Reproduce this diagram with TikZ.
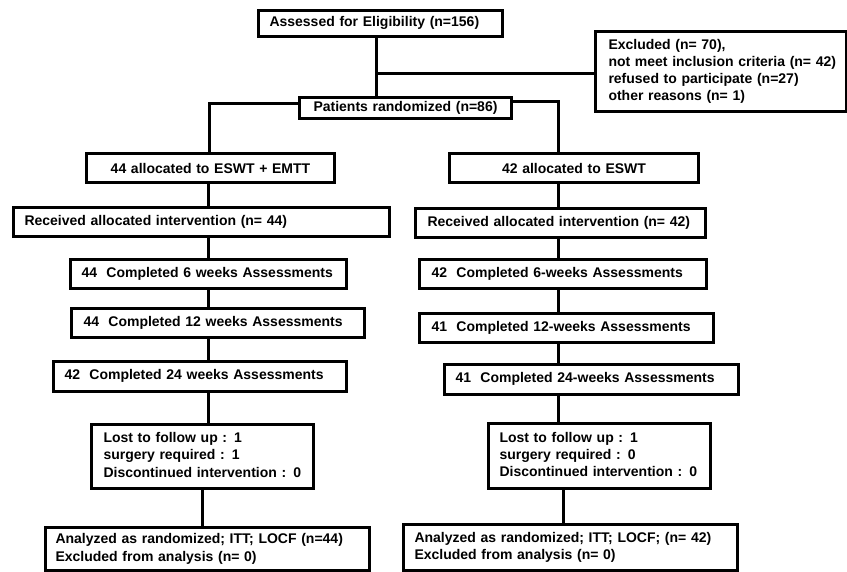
\documentclass[tikz,border=0pt]{standalone}
\usepackage{fontspec}
\setmainfont{Liberation Sans}
\newcommand\tb[2]{\begin{tabular}{@{\hspace{#1}}l@{}}#2\end{tabular}}
\begin{document}
\begin{tikzpicture}[x=1pt,y=-1pt,
  box/.style={draw, line width=3pt, anchor=north west, align=left, inner ysep=0pt, inner xsep=0pt,
    font=\fontsize{14pt}{17.3pt}\selectfont\bfseries},
  cbox/.style={box, align=center},
  conn/.style={line width=3pt}]
\useasboundingbox (0,0) rectangle (847,571);
% nodes
\node[box, text width=244pt, minimum height=26pt] (assess) at (257,9) {\tb{11pt}{Assessed for Eligibility (n=156)}};
\node[box, text width=251pt, minimum height=80pt] (excl) at (594,30) {\tb{13pt}{Excluded (n= 70),\\not meet inclusion criteria (n= 42)\\refused to participate (n=27)\\other reasons (n= 1)}};
\node[box, text width=212pt, minimum height=21pt] (rand) at (298,96) {\tb{14pt}{Patients randomized (n=86)}};
\node[cbox, text width=248pt, minimum height=29pt] (allocL) at (85,152) {44 allocated to ESWT + EMTT};
\node[cbox, text width=249pt, minimum height=29pt] (allocR) at (448,152) {42 allocated to ESWT};
\node[box, text width=376pt, minimum height=29pt] (recvL) at (12,206) {\tb{11pt}{Received allocated intervention (n= 44)}};
\node[box, text width=290pt, minimum height=29pt] (recvR) at (414,207) {\tb{12pt}{Received allocated intervention (n= 42)}};
\node[box, text width=276pt, minimum height=29pt] (c6L) at (69,258) {\tb{11pt}{44~ Completed 6 weeks Assessments}};
\node[box, text width=287pt, minimum height=29pt] (c6R) at (418,258) {\tb{12pt}{42~ Completed 6-weeks Assessments}};
\node[box, text width=293pt, minimum height=29pt] (c12L) at (70,307) {\tb{12pt}{44~ Completed 12 weeks Assessments}};
\node[box, text width=294pt, minimum height=29pt] (c12R) at (418,312) {\tb{12pt}{41~ Completed 12-weeks Assessments}};
\node[box, text width=293pt, minimum height=30pt] (c24L) at (52,360) {\tb{11pt}{42~ Completed 24 weeks Assessments}};
\node[box, text width=294pt, minimum height=30pt] (c24R) at (443,363) {\tb{11pt}{41~ Completed 24-weeks Assessments}};
\node[box, text width=222pt, minimum height=64pt] (lostL) at (90,423) {\tb{12pt}{Lost to follow up : 1\\surgery required : 1\\Discontinued intervention : 0}};
\node[box, text width=222pt, minimum height=65pt] (lostR) at (487,422) {\tb{11pt}{Lost to follow up : 1\\surgery required : 0\\Discontinued intervention : 0}};
\node[box, text width=324pt, minimum height=43pt] (anaL) at (44,526) {\tb{10pt}{Analyzed as randomized; ITT; LOCF (n=44)\\Excluded from analysis (n= 0)}};
\node[box, text width=334pt, minimum height=46pt] (anaR) at (402,523) {\tb{11pt}{Analyzed as randomized; ITT; LOCF; (n= 42)\\Excluded from analysis (n= 0)}};
% connectors
\coordinate (jx) at (376,73);
\draw[conn] (376,0 |- assess.south) -- (376,0 |- rand.north);
\draw[conn] (jx) -- (jx -| excl.west);
\draw[conn] (rand.west |- 0,103) -| (209,0 |- allocL.north);
\draw[conn] (rand.east |- 0,101) -| (558,0 |- allocR.north);
\draw[conn] (208,0 |- allocL.south) -- (208,0 |- recvL.north);
\draw[conn] (208,0 |- recvL.south) -- (208,0 |- c6L.north);
\draw[conn] (208,0 |- c6L.south) -- (208,0 |- c12L.north);
\draw[conn] (208,0 |- c12L.south) -- (208,0 |- c24L.north);
\draw[conn] (208,0 |- c24L.south) -- (208,0 |- lostL.north);
\draw[conn] (202,0 |- lostL.south) -- (202,0 |- anaL.north);
\draw[conn] (558,0 |- allocR.south) -- (558,0 |- recvR.north);
\draw[conn] (558,0 |- recvR.south) -- (558,0 |- c6R.north);
\draw[conn] (558,0 |- c6R.south) -- (558,0 |- c12R.north);
\draw[conn] (558,0 |- c12R.south) -- (558,0 |- c24R.north);
\draw[conn] (558,0 |- c24R.south) -- (558,0 |- lostR.north);
\draw[conn] (563,0 |- lostR.south) -- (563,0 |- anaR.north);
\end{tikzpicture}
\end{document}
